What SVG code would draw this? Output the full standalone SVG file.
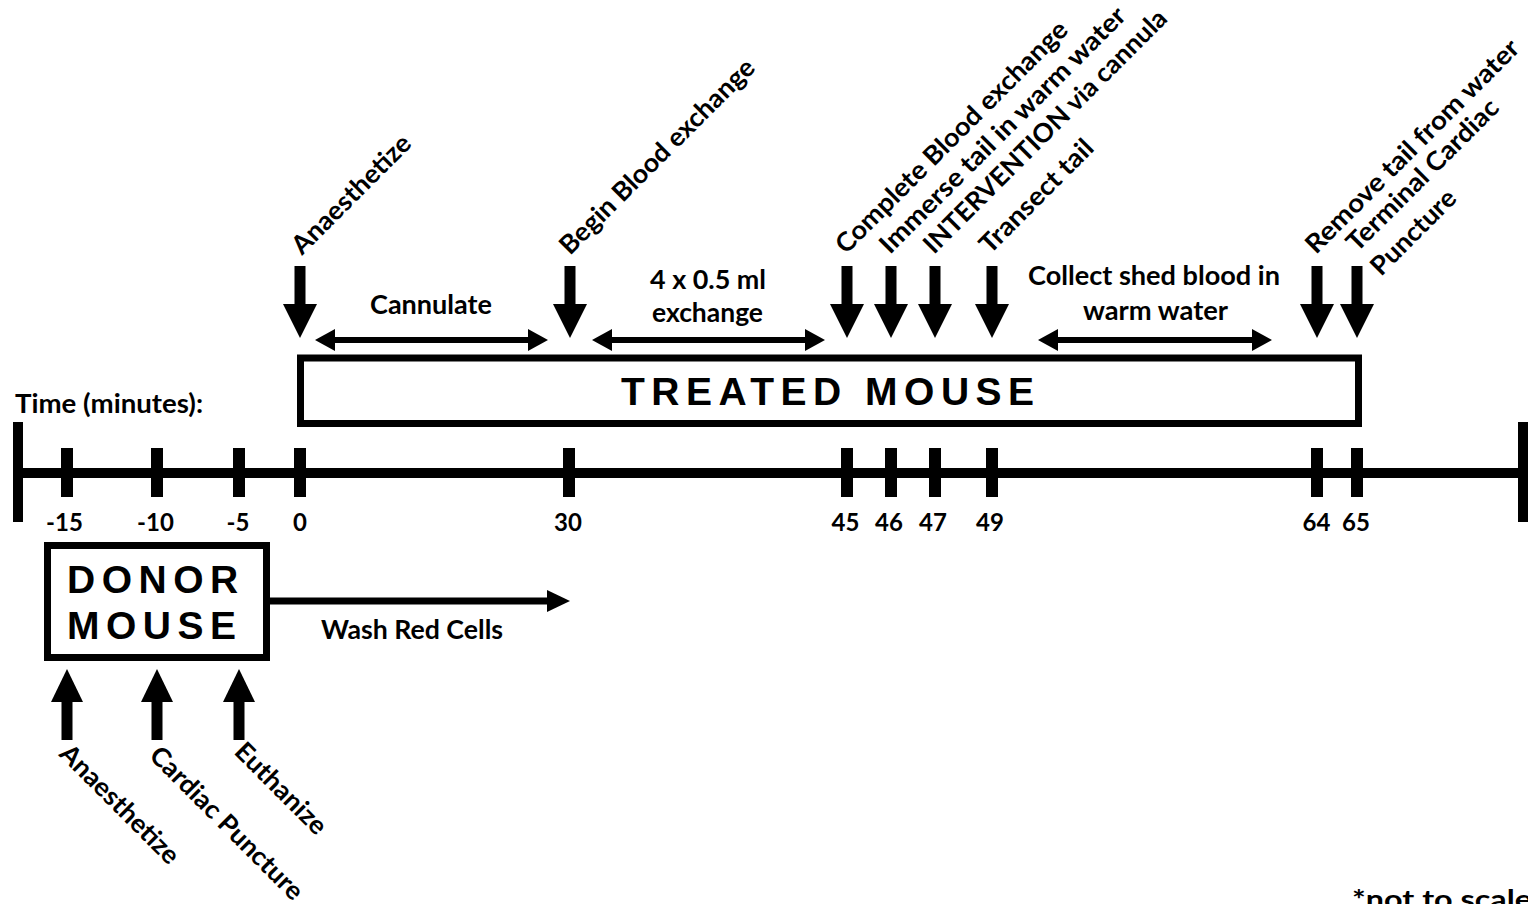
<svg xmlns="http://www.w3.org/2000/svg" width="1528" height="904" viewBox="0 0 1528 904">
<style>
.t{font-family:Lato,"Open Sans","DejaVu Sans",sans-serif;font-weight:bold;font-size:26px;fill:#000}
.n{font-family:Lato,"Open Sans","DejaVu Sans",sans-serif;font-weight:bold;font-size:24px;fill:#000;text-anchor:middle}
.big{font-family:"Liberation Sans",Arial,sans-serif;font-weight:bold;font-size:39px;letter-spacing:6.5px;fill:#000}
.box{fill:#fff;stroke:#000;stroke-width:7}
.ln{stroke:#000;stroke-width:6;fill:none}
.ah{fill:#000}
</style>
<defs>
<g id="down"><rect x="-5.5" y="266" width="11" height="40"/><polygon points="-17,304 17,304 0,338"/></g>
<g id="up"><rect x="-5.5" y="700" width="11" height="40"/><polygon points="-16,702 16,702 0,669"/></g>
</defs>
<rect width="1528" height="904" fill="#fff"/>

<g id="timeline">
<rect x="13" y="468" width="1515" height="10"/>
<rect x="13" y="422" width="10" height="100"/>
<rect x="1518" y="422" width="10" height="100"/>
<g>
<rect x="61" y="448" width="12" height="49"/>
<rect x="151" y="448" width="12" height="49"/>
<rect x="233" y="448" width="12" height="49"/>
<rect x="294" y="448" width="12" height="49"/>
<rect x="563" y="448" width="12" height="49"/>
<rect x="841" y="448" width="12" height="49"/>
<rect x="885" y="448" width="12" height="49"/>
<rect x="929" y="448" width="12" height="49"/>
<rect x="986" y="448" width="12" height="49"/>
<rect x="1311" y="448" width="12" height="49"/>
<rect x="1351" y="448" width="12" height="49"/>
</g>
<text class="t" x="15" y="413" font-size="25" textLength="188" lengthAdjust="spacingAndGlyphs">Time (minutes):</text>
<text class="n" x="64.5" y="531">-15</text>
<text class="n" x="155.5" y="531">-10</text>
<text class="n" x="238" y="531">-5</text>
<text class="n" x="300" y="531">0</text>
<text class="n" x="568" y="531">30</text>
<text class="n" x="845.5" y="531">45</text>
<text class="n" x="889" y="531">46</text>
<text class="n" x="933" y="531">47</text>
<text class="n" x="990" y="531">49</text>
<text class="n" x="1316.5" y="531">64</text>
<text class="n" x="1356" y="531">65</text>
</g>

<g id="treated-mouse">
<rect class="box" x="300.5" y="358" width="1058" height="65.5"/>
<text class="big" x="621" y="405">TREATED MOUSE</text>
</g>

<g id="donor-mouse">
<rect class="box" x="47.5" y="545.5" width="219" height="112"/>
<text class="big" x="67" y="593">DONOR</text>
<text class="big" x="67" y="639">MOUSE</text>
</g>

<g id="connectors">
<use href="#down" x="300"/>
<use href="#down" x="570"/>
<use href="#down" x="847"/>
<use href="#down" x="891"/>
<use href="#down" x="935"/>
<use href="#down" x="992"/>
<use href="#down" x="1317"/>
<use href="#down" x="1357"/>
<use href="#up" x="67"/>
<use href="#up" x="157"/>
<use href="#up" x="239"/>
<g id="cannulate-span"><line class="ln" x1="333" y1="340" x2="530" y2="340"/><polygon class="ah" points="315,340 335,329 335,351"/><polygon class="ah" points="548,340 528,329 528,351"/></g>
<g id="exchange-span"><line class="ln" x1="610" y1="340" x2="807" y2="340"/><polygon class="ah" points="592,340 612,329 612,351"/><polygon class="ah" points="825,340 805,329 805,351"/></g>
<g id="collect-span"><line class="ln" x1="1056" y1="340" x2="1254" y2="340"/><polygon class="ah" points="1038,340 1058,329 1058,351"/><polygon class="ah" points="1272,340 1252,329 1252,351"/></g>
<g id="wash-arrow"><line stroke="#000" stroke-width="7" x1="270" y1="601" x2="549" y2="601"/><polygon class="ah" points="547,590 570,601 547,612"/></g>
</g>

<g id="treated-labels">
<text class="t" transform="translate(302,256) rotate(-45)" textLength="157" lengthAdjust="spacingAndGlyphs">Anaesthetize</text>
<text class="t" transform="translate(570,256) rotate(-45)" textLength="264" lengthAdjust="spacingAndGlyphs">Begin Blood exchange</text>
<text class="t" transform="translate(846,255) rotate(-45)" textLength="316" lengthAdjust="spacingAndGlyphs">Complete Blood exchange</text>
<text class="t" transform="translate(890,255) rotate(-45)" textLength="336" lengthAdjust="spacingAndGlyphs">Immerse tail in warm water</text>
<text class="t" transform="translate(934,255) rotate(-45)" textLength="332" lengthAdjust="spacingAndGlyphs">INTERVENTION via cannula</text>
<text class="t" transform="translate(990,255) rotate(-45)" textLength="149" lengthAdjust="spacingAndGlyphs">Transect tail</text>
<text class="t" transform="translate(1316,255) rotate(-45)" textLength="290" lengthAdjust="spacingAndGlyphs">Remove tail from water</text>
<text class="t" transform="translate(1357,253) rotate(-45)" textLength="203" lengthAdjust="spacingAndGlyphs">Terminal Cardiac</text>
<text class="t" transform="translate(1381,277) rotate(-45)" textLength="109" lengthAdjust="spacingAndGlyphs">Puncture</text>
<text class="t" x="370" y="314" textLength="122" lengthAdjust="spacingAndGlyphs">Cannulate</text>
<text class="t" x="650" y="289" textLength="116" lengthAdjust="spacingAndGlyphs">4 x 0.5 ml</text>
<text class="t" x="652" y="322" textLength="111" lengthAdjust="spacingAndGlyphs">exchange</text>
<text class="t" x="1028" y="285" textLength="252" lengthAdjust="spacingAndGlyphs">Collect shed blood in</text>
<text class="t" x="1083" y="320" textLength="145" lengthAdjust="spacingAndGlyphs">warm water</text>
</g>

<g id="donor-labels">
<text class="t" x="321" y="639" textLength="182" lengthAdjust="spacingAndGlyphs">Wash Red Cells</text>
<text class="t" transform="translate(58,755) rotate(45)" textLength="157" lengthAdjust="spacingAndGlyphs">Anaesthetize</text>
<text class="t" transform="translate(148,757) rotate(45)" textLength="205" lengthAdjust="spacingAndGlyphs">Cardiac Puncture</text>
<text class="t" transform="translate(233,753) rotate(45)" textLength="118" lengthAdjust="spacingAndGlyphs">Euthanize</text>
</g>

<text class="t" x="1352" y="909" textLength="180" lengthAdjust="spacingAndGlyphs">*not to scale</text>
</svg>
